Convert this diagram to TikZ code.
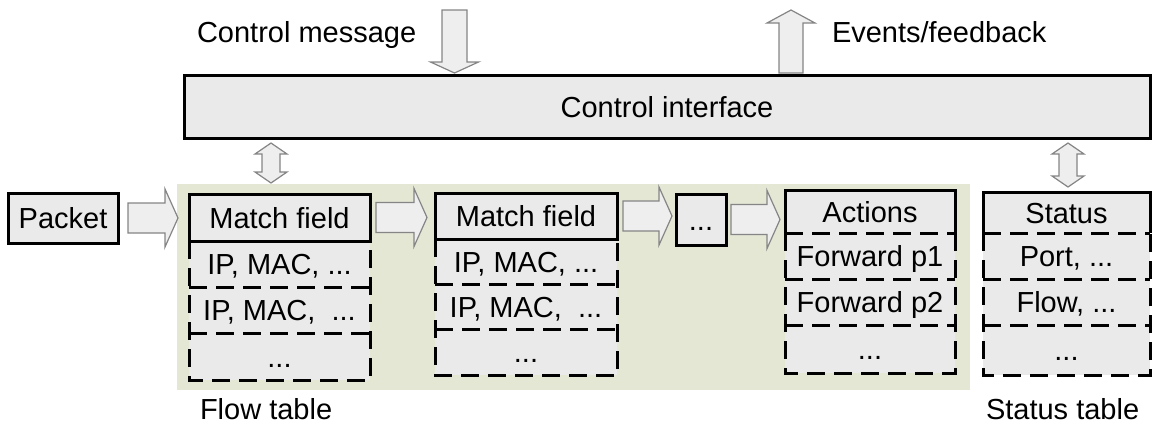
\documentclass[tikz,border=0pt]{standalone}
\usepackage{fontspec}
\setmainfont{Liberation Sans}
\usetikzlibrary{calc}
\definecolor{bgreen}{HTML}{E3E7D4}
\definecolor{boxgray}{HTML}{EAEAEA}
\definecolor{arrfill}{HTML}{EEEEEE}
\definecolor{arredge}{HTML}{858585}
% horizontal block arrow: source, target, start gap, end gap
\newcommand\harrow[4]{%
  \draw[barrow] let \p1=($(#1.east)+(#3,0)$), \p2=($(#2.west)+(-#4,0)$) in
    (\x1,\y1+15pt) -- (\x2-13pt,\y1+15pt) -- (\x2-13pt,\y1+29pt) -- (\x2,\y1)
    -- (\x2-13pt,\y1-29pt) -- (\x2-13pt,\y1-15pt) -- (\x1,\y1-15pt) -- cycle;}
% vertical double block arrow: top point, bottom point
\newcommand\vdarrow[2]{%
  \draw[barrow] let \p1=(#1), \p2=(#2) in
    (\x1,\y1) -- (\x1+16pt,\y1-11pt) -- (\x1+9pt,\y1-11pt) -- (\x1+9pt,\y2+11pt)
    -- (\x1+16pt,\y2+11pt) -- (\x1,\y2) -- (\x1-16pt,\y2+11pt) -- (\x1-9pt,\y2+11pt)
    -- (\x1-9pt,\y1-11pt) -- (\x1-16pt,\y1-11pt) -- cycle;}
\begin{document}
\begin{tikzpicture}[x=1pt,y=-1pt,
  font=\fontsize{29}{34}\selectfont,
  every node/.style={outer sep=0pt, inner sep=0pt},
  txt/.style={text height=21pt, text depth=0pt},
  solidbox/.style={txt, draw=black, line width=3pt, fill=boxgray},
  cell/.style={txt, fill=boxgray},
  dashline/.style={line width=3pt, dash pattern=on 18pt off 9pt},
  solidline/.style={line width=3pt},
  barrow/.style={draw=arredge, fill=arrfill, line width=1.2pt, line join=miter}]
\useasboundingbox (0,0) rectangle (1153,426);

% background of flow table
\node[fill=bgreen, minimum width=793pt, minimum height=206pt] (flowbg) at (573.5,287) {};

% control interface
\node[solidbox, minimum width=966pt, minimum height=63pt] (ctrl) at (667,106.5) {Control interface};
\node[anchor=base west] (cmlbl) at (197,42) {Control message};
\node[anchor=base west] (evlbl) at (832,42) {Events/feedback};

% packet
\node[solidbox, minimum width=110pt, minimum height=50pt] (packet) at (63,218) {Packet};

% flow table 1
\node[cell, minimum width=181pt, minimum height=46pt] (mf1r1) at (279.5,264) {IP, MAC, ...};
\node[cell, minimum width=181pt, minimum height=46pt] (mf1r2) at (279.5,310) {IP, MAC,\ \ ...};
\node[cell, minimum width=181pt, minimum height=47pt] (mf1r3) at (279.5,356.5) {...};
\node[solidbox, minimum width=181pt, minimum height=47pt] (mf1) at (279.5,217.5) {Match field};
\draw[dashline] (mf1.south west) -- (mf1r3.south west) -- (mf1r3.south east) -- (mf1.south east);
\draw[dashline] (mf1r1.south west) -- (mf1r1.south east);
\draw[dashline] (mf1r2.south west) -- (mf1r2.south east);

% flow table 2
\node[cell, minimum width=182pt, minimum height=45pt] (mf2r1) at (526,261.5) {IP, MAC, ...};
\node[cell, minimum width=182pt, minimum height=45pt] (mf2r2) at (526,306.5) {IP, MAC,\ \ ...};
\node[cell, minimum width=182pt, minimum height=46pt] (mf2r3) at (526,352) {...};
\node[solidbox, minimum width=182pt, minimum height=46pt] (mf2) at (526,216) {Match field};
\draw[dashline] (mf2.south west) -- (mf2r3.south west) -- (mf2r3.south east) -- (mf2.south east);
\draw[dashline] (mf2r1.south west) -- (mf2r1.south east);
\draw[dashline] (mf2r2.south west) -- (mf2r2.south east);

% dots box
\node[solidbox, minimum width=50pt, minimum height=51pt] (dots) at (701,219.5) {...};

% actions table
\node[cell, minimum width=170pt, minimum height=43pt] (act) at (870,211.5) {Actions};
\node[cell, minimum width=170pt, minimum height=46pt] (actr1) at (870,256) {Forward p1};
\node[cell, minimum width=170pt, minimum height=46pt] (actr2) at (870,302) {Forward p2};
\node[cell, minimum width=170pt, minimum height=48pt] (actr3) at (870,349) {...};
\draw[solidline] (act.south west) -- (act.north west) -- (act.north east) -- (act.south east);
\draw[dashline] (act.south west) -- (actr3.south west) -- (actr3.south east) -- (act.south east);
\draw[dashline] (act.south west) -- (act.south east);
\draw[dashline] (actr1.south west) -- (actr1.south east);
\draw[dashline] (actr2.south west) -- (actr2.south east);

% status table
\node[cell, minimum width=167pt, minimum height=41pt] (st) at (1066.5,212.5) {Status};
\node[cell, minimum width=167pt, minimum height=46pt] (str1) at (1066.5,256) {Port, ...};
\node[cell, minimum width=167pt, minimum height=46pt] (str2) at (1066.5,302) {Flow, ...};
\node[cell, minimum width=167pt, minimum height=50pt] (str3) at (1066.5,350) {...};
\draw[solidline] (st.south west) -- (st.north west) -- (st.north east) -- (st.south east);
\draw[dashline] (st.south west) -- (str3.south west) -- (str3.south east) -- (st.south east);
\draw[dashline] (st.south west) -- (st.south east);
\draw[dashline] (str1.south west) -- (str1.south east);
\draw[dashline] (str2.south west) -- (str2.south east);

% table captions
\node[anchor=base west] (ftlbl) at (200,419) {Flow table};
\node[anchor=base west] (stlbl) at (986,419) {Status table};

% horizontal block arrows
\harrow{packet}{mf1}{10}{11}
\harrow{mf1}{mf2}{6}{8}
\harrow{mf2}{dots}{6}{4}
\harrow{dots}{act}{5}{5}

% vertical double arrows
\coordinate (dl) at (271,0);
\coordinate (dr) at (1068,0);
\vdarrow{$(dl |- ctrl.south)+(0,5)$}{$(dl |- mf1.north)+(0,-11)$}
\vdarrow{$(dr |- ctrl.south)+(0,5)$}{$(dr |- st.north)+(0,-5)$}

% control message (down) arrow
\coordinate (cmsrc) at (454.5,10);
\draw[barrow] let \p1=(cmsrc), \p2=($(cmsrc |- ctrl.north)+(0,-2)$) in
  (\x1-12.5pt,\y1) -- (\x1-12.5pt,\y2+11pt) -- (\x1-24pt,\y2+11pt) -- (\x1,\y2)
  -- (\x1+24pt,\y2+11pt) -- (\x1+12.5pt,\y2+11pt) -- (\x1+12.5pt,\y1) -- cycle;

% events/feedback (up) arrow
\coordinate (evdst) at (791,10);
\draw[barrow] let \p1=(evdst), \p2=($(evdst |- ctrl.north)+(0,-2)$) in
  (\x1,\y1) -- (\x1+24pt,\y1-13pt) -- (\x1+12pt,\y1-13pt) -- (\x1+12pt,\y2)
  -- (\x1-12pt,\y2) -- (\x1-12pt,\y1-13pt) -- (\x1-24pt,\y1-13pt) -- cycle;
\end{tikzpicture}
\end{document}
